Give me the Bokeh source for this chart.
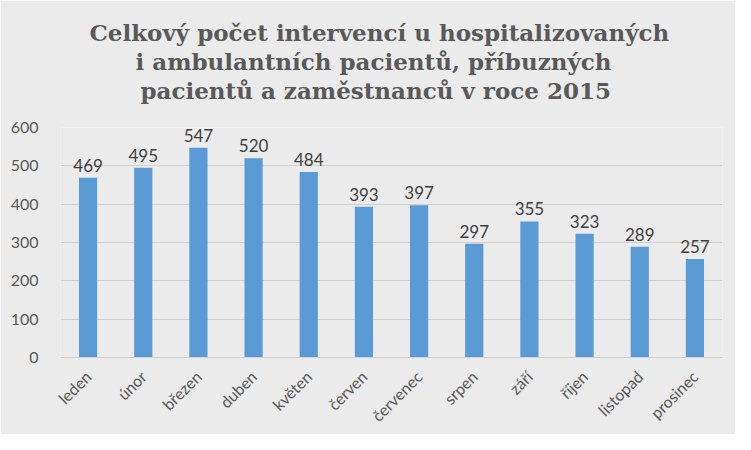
from math import pi
from bokeh.plotting import figure
from bokeh.models import ColumnDataSource, LabelSet, FixedTicker, Range1d, Title
from bokeh.core.properties import value
from bokeh.embed import file_html
from bokeh.resources import INLINE

months = ["leden", "únor", "březen", "duben", "květen", "červen",
          "červenec", "srpen", "září", "říjen", "listopad", "prosinec"]
counts = [469, 495, 547, 520, 484, 393, 397, 297, 355, 323, 289, 257]
y_ticks = [0, 100, 200, 300, 400, 500, 600]
title_lines = ["Celkový počet intervencí u hospitalizovaných",
               "i ambulantních pacientů, příbuzných",
               "pacientů a zaměstnanců v roce 2015"]
title_offsets = [29, 75, 80]

BG = "#ebebeb"
source = ColumnDataSource(dict(month=months, count=counts,
                               label=[str(c) for c in counts]))

p = figure(x_range=months, y_range=Range1d(0, 600), width=735, height=434,
           output_backend="svg", toolbar_location=None,
           min_border_left=60, min_border_right=13, min_border_top=127,
           min_border_bottom=76)
p.background_fill_color = BG
p.border_fill_color = BG
p.outline_line_color = None

spacer = Title(text="\u00a0", text_font_size="20px", text_color=BG,
               standoff=0)
p.add_layout(spacer, "above")
for line, off in zip(reversed(title_lines), reversed(title_offsets)):
    t = Title(text=line, align="left", text_font="DejaVu Serif",
              text_font_style="bold", text_font_size="23px",
              text_color="#595959", standoff=0, offset=off)
    p.add_layout(t, "above")

p.vbar(x="month", top="count", width=0.33, source=source,
       fill_color="#5B9BD5", line_color=None)

labels = LabelSet(x="month", y="count", text="label", source=source,
                  text_align="center", text_baseline="bottom", y_offset=6,
                  text_font=value("Lato"), text_font_size=value("17px"),
                  text_color="#404040", level="overlay")
p.add_layout(labels)

p.yaxis.ticker = FixedTicker(ticks=y_ticks)
p.yaxis.axis_line_color = None
p.yaxis.major_tick_line_color = None
p.yaxis.minor_tick_line_color = None
p.yaxis.major_label_text_font = "Lato"
p.yaxis.major_label_text_font_size = "16px"
p.yaxis.major_label_text_color = "#595959"
p.yaxis.major_label_standoff = 16

p.xaxis.axis_line_color = "#d0d0d0"
p.xaxis.major_tick_line_color = None
p.xaxis.minor_tick_line_color = None
p.xaxis.major_label_orientation = pi / 4
p.xaxis.major_label_text_font = "Lato"
p.xaxis.major_label_text_font_size = "16px"
p.xaxis.major_label_text_color = "#595959"
p.xaxis.major_label_standoff = 10

p.xgrid.grid_line_color = None
p.ygrid.grid_line_color = "#d0d0d0"
p.ygrid.grid_line_width = 1

open("out.html", "w").write(file_html(p, INLINE))
